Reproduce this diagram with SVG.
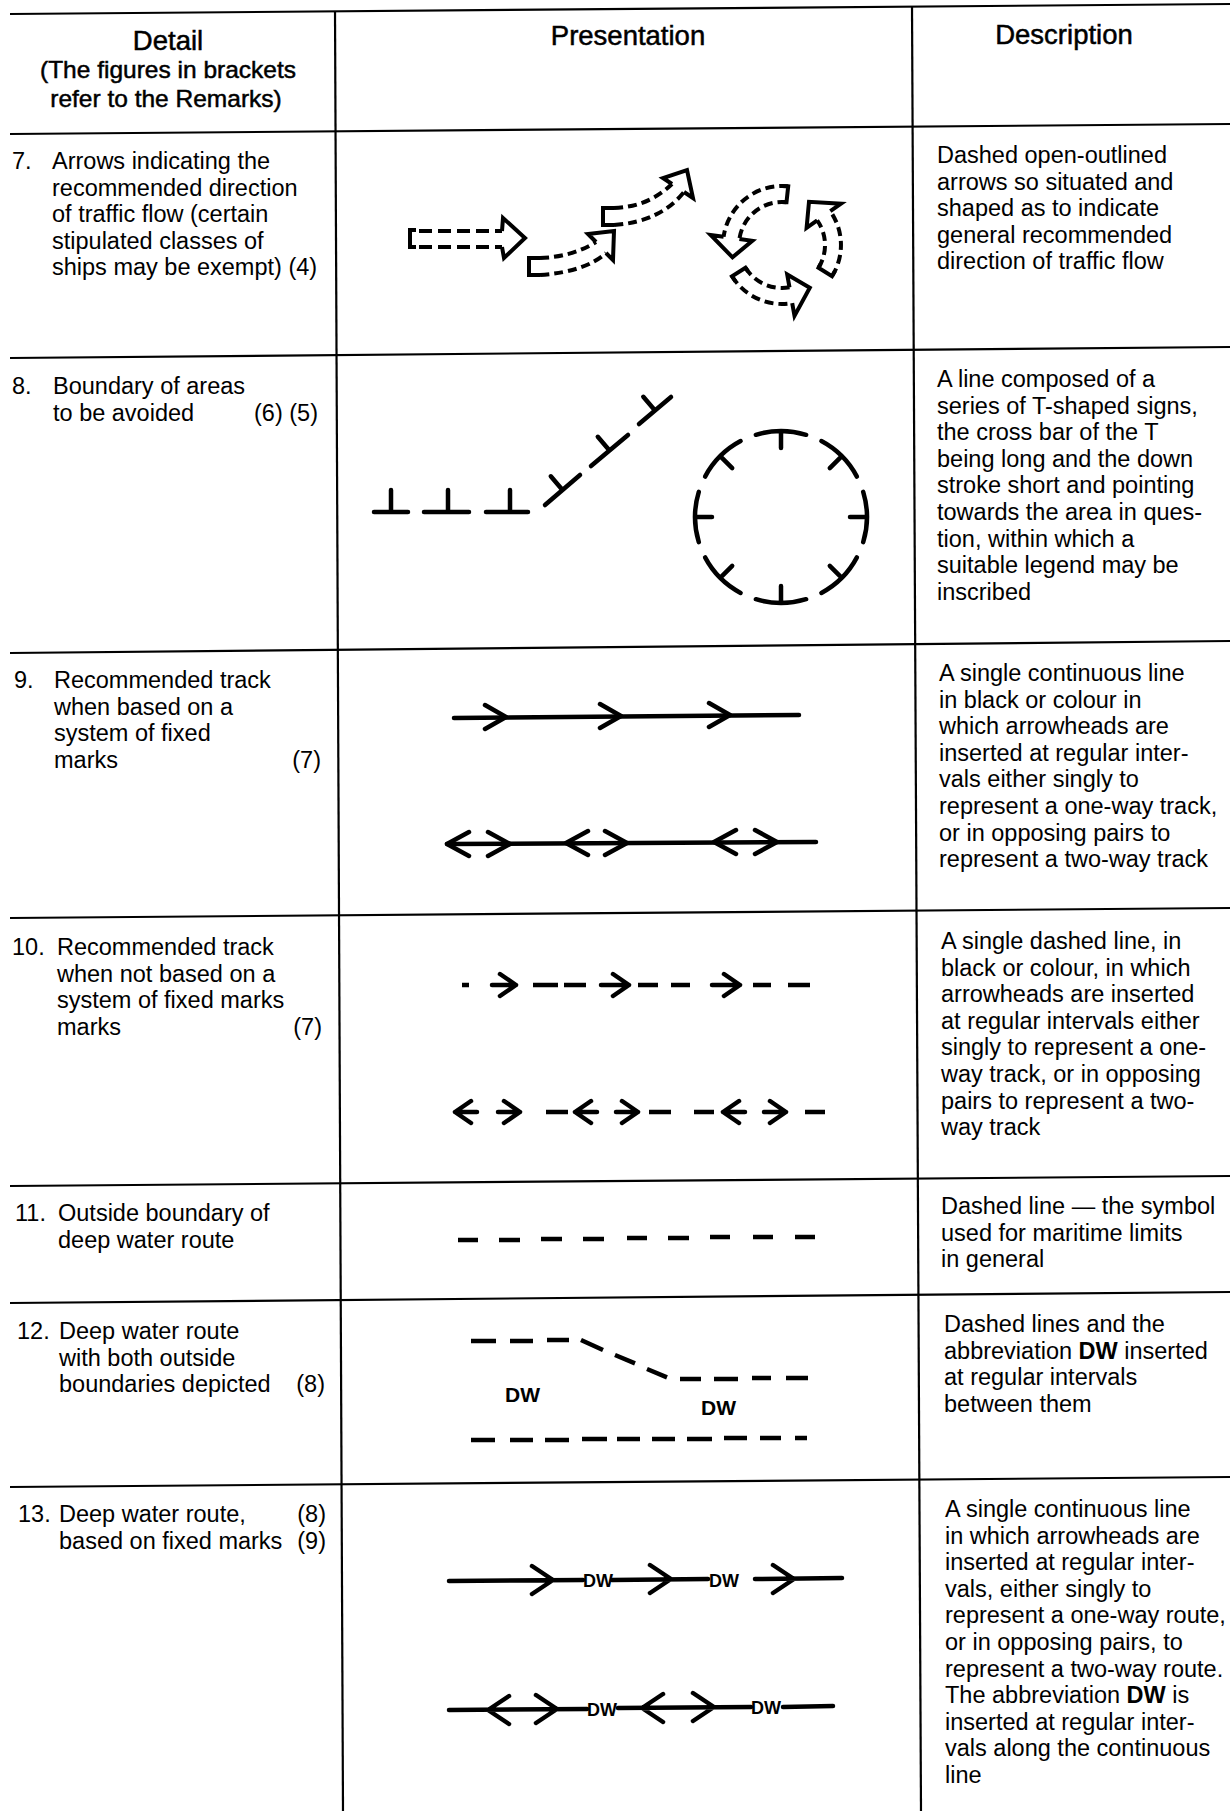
<svg xmlns="http://www.w3.org/2000/svg" width="1230" height="1811" viewBox="0 0 1230 1811">
<style>
.t{font-family:"Liberation Sans",Arial,sans-serif;font-size:23.5px;fill:#000}
.h{font-family:"Liberation Sans",Arial,sans-serif;font-size:27.5px;fill:#000;stroke:#000;stroke-width:0.5;text-anchor:middle}
.n{font-family:"Liberation Sans",Arial,sans-serif;font-size:24.5px;fill:#000;stroke:#000;stroke-width:0.5;text-anchor:middle}
.e{text-anchor:end}
.dw{font-family:"Liberation Sans",Arial,sans-serif;font-weight:bold;fill:#000}
.grid line{stroke:#000;stroke-width:2.2}
.sym{fill:none;stroke:#000;stroke-width:4.5;stroke-linecap:round;stroke-linejoin:round}
.dsh{fill:none;stroke:#000;stroke-width:4.5;stroke-linecap:butt}
.ol{fill:none;stroke:#000;stroke-width:4;stroke-linejoin:miter;stroke-linecap:butt}
.od{fill:none;stroke:#000;stroke-width:4;stroke-dasharray:9 5}
</style>
<rect width="1230" height="1811" fill="#fff"/>

<g id="grid" class="grid">
<line x1="10" y1="14" x2="1230" y2="4"/>
<line x1="10" y1="134" x2="1230" y2="124"/>
<line x1="10" y1="358" x2="1230" y2="347"/>
<line x1="10" y1="653" x2="1230" y2="641"/>
<line x1="10" y1="918" x2="1230" y2="908"/>
<line x1="10" y1="1186" x2="1230" y2="1176"/>
<line x1="10" y1="1303" x2="1230" y2="1292"/>
<line x1="10" y1="1487" x2="1230" y2="1477"/>
<line x1="335" y1="11" x2="343" y2="1811"/>
<line x1="912" y1="7" x2="921" y2="1811"/>
</g>

<g id="header">
<text class="h" x="168" y="50">Detail</text>
<text class="n" x="168" y="78">(The figures in brackets</text>
<text class="n" x="166" y="107">refer to the Remarks)</text>
<text class="h" x="628" y="45">Presentation</text>
<text class="h" x="1064" y="44">Description</text>
</g>

<g id="row7-detail" class="t">
<text x="12" y="169">7.</text>
<text x="52" y="169">Arrows indicating the</text>
<text x="52" y="195.6">recommended direction</text>
<text x="52" y="222.2">of traffic flow (certain</text>
<text x="52" y="248.8">stipulated classes of</text>
<text x="52" y="275.4">ships may be exempt) (4)</text>
</g>
<g id="row7-presentation">
<path class="ol" d="M416 230 L410 230 L410 247 L416 247"/>
<path class="od" style="stroke-dasharray:13 6" d="M419 231 L502 231 M419 247 L502 247"/>
<path class="ol" d="M502 231 L503 218 L525 238 L504 258 L502 247"/>
<path class="ol" d="M540 258 L529 258 L529 275 L540 275"/>
<path class="od" d="M540 258 Q572 257 596 242 M540 275 Q585 272 606 253"/>
<path class="ol" d="M596 242 L588 234 L614 231 L613 260 L606 253"/>
<path class="ol" d="M614 208 L603 208 L603 225 L614 225"/>
<path class="od" d="M614 208 Q648 207 672 184 M614 225 Q660 222 684 192"/>
<path class="ol" d="M672 184 L663 178 L687 170 L693 198 L684 192"/>
<path class="ol" d="M782 186 L788.2 186.3 L786.5 202.2 L782 202"/>
<path class="od" d="M788.2 186.3 A59 59 0 0 0 723.6 236.8 M786.5 202.2 A43 43 0 0 0 739.4 239"/>
<path class="ol" d="M739.4 239 L752.3 240.8 L732.5 257.3 L710.7 235 L723.6 236.8"/>
<path class="ol" d="M835 270.9 L832 276.3 L818.5 267.8 L820.6 263.9"/>
<path class="od" d="M832 276.3 A59 59 0 0 0 830.3 211.2 M818.5 267.8 A43 43 0 0 0 817.2 220.3"/>
<path class="ol" d="M817.2 220.3 L806.6 227.8 L809 201.8 L841 203.7 L830.3 211.2"/>
<path class="ol" d="M735.5 281.3 L732 276.3 L745.5 267.8 L748.1 271.5"/>
<path class="od" d="M732 276.3 A59 59 0 0 0 792.2 303.1 M745.5 267.8 A43 43 0 0 0 789.5 287.3"/>
<path class="ol" d="M789.5 287.3 L787.2 274.5 L809.8 287.8 L794.5 315.9 L792.2 303.1"/>
</g>
<g id="row7-description" class="t">
<text x="937" y="163">Dashed open-outlined</text>
<text x="937" y="189.6">arrows so situated and</text>
<text x="937" y="216.2">shaped as to indicate</text>
<text x="937" y="242.8">general recommended</text>
<text x="937" y="269.4">direction of traffic flow</text>
</g>

<g id="row8-detail" class="t">
<text x="12" y="394">8.</text>
<text x="53" y="394">Boundary of areas</text>
<text x="53" y="420.6">to be avoided</text>
<text class="e" x="318" y="420.6">(6) (5)</text>
</g>
<g id="row8-presentation" class="sym">
<path d="M374 512 L408 512 M391 512 L391 490 M424 512 L469 512 M448 512 L448 490 M486 512 L528 512 M510 512 L510 490"/>
<path d="M545 505 L580 475 M562.5 490 L550.8 476.3 M591 466 L628 435 M609.5 450.5 L597.8 436.8 M639 424 L671 397 M655 410.5 L643.3 396.8"/>
<path d="M755.9 434.8 A86 86 0 0 1 806.1 434.8 M781 431 L781 448"/>
<path d="M821.4 441.1 A86 86 0 0 1 856.9 476.6 M841.8 456.2 L829.8 468.2"/>
<path d="M863.2 491.9 A86 86 0 0 1 863.2 542.1 M867 517 L850 517"/>
<path d="M856.9 557.4 A86 86 0 0 1 821.4 592.9 M841.8 577.8 L829.8 565.8"/>
<path d="M806.1 599.2 A86 86 0 0 1 755.9 599.2 M781 603 L781 586"/>
<path d="M740.6 592.9 A86 86 0 0 1 705.1 557.4 M720.2 577.8 L732.2 565.8"/>
<path d="M698.8 542.1 A86 86 0 0 1 698.8 491.9 M695 517 L712 517"/>
<path d="M705.1 476.6 A86 86 0 0 1 740.6 441.1 M720.2 456.2 L732.2 468.2"/>
</g>
<g id="row8-description" class="t">
<text x="937" y="387">A line composed of a</text>
<text x="937" y="413.6">series of T-shaped signs,</text>
<text x="937" y="440.2">the cross bar of the T</text>
<text x="937" y="466.8">being long and the down</text>
<text x="937" y="493.4">stroke short and pointing</text>
<text x="937" y="520">towards the area in ques-</text>
<text x="937" y="546.6">tion, within which a</text>
<text x="937" y="573.2">suitable legend may be</text>
<text x="937" y="599.8">inscribed</text>
</g>

<g id="row9-detail" class="t">
<text x="14" y="688">9.</text>
<text x="54" y="688">Recommended track</text>
<text x="54" y="714.6">when based on a</text>
<text x="54" y="741.2">system of fixed</text>
<text x="54" y="767.8">marks</text>
<text class="e" x="321" y="767.8">(7)</text>
</g>
<g id="row9-presentation" class="sym">
<path d="M454 718 L799 715"/>
<path d="M485 705 L506 717 L485 729 M600 704 L621 716 L600 728 M709 703 L730 715 L709 727"/>
<path d="M447 844 L816 842"/>
<path d="M469 832 L447 844 L469 856 M488 832 L510 844 L488 856 M588 831 L566 843 L588 855 M605 831 L627 843 L605 855 M736 830 L714 842 L736 854 M755 830 L777 842 L755 854"/>
</g>
<g id="row9-description" class="t">
<text x="939" y="681">A single continuous line</text>
<text x="939" y="707.6">in black or colour in</text>
<text x="939" y="734.2">which arrowheads are</text>
<text x="939" y="760.8">inserted at regular inter-</text>
<text x="939" y="787.4">vals either singly to</text>
<text x="939" y="814">represent a one-way track,</text>
<text x="939" y="840.6">or in opposing pairs to</text>
<text x="939" y="867.2">represent a two-way track</text>
</g>

<g id="row10-detail" class="t">
<text x="12" y="955">10.</text>
<text x="57" y="955">Recommended track</text>
<text x="57" y="981.6">when not based on a</text>
<text x="57" y="1008.2">system of fixed marks</text>
<text x="57" y="1034.8">marks</text>
<text class="e" x="322" y="1034.8">(7)</text>
</g>
<g id="row10-presentation">
<path class="dsh" d="M462 985 L469 985 M533 985 L558 985 M564 985 L586 985 M638 985 L658 985 M671 985 L690 985 M753 985 L771 985 M788 985 L810 985"/>
<path class="sym" d="M492 985 L516 985 M500 974 L516 985 L500 996 M601 985 L629 985 M613 974 L629 985 L613 996 M712 985 L740 985 M724 974 L740 985 L724 996"/>
<path class="dsh" d="M546 1112 L568 1112 M649 1112 L671 1112 M694 1112 L714 1112 M805 1112 L825 1112"/>
<path class="sym" d="M455 1112 L477 1112 M471 1101 L455 1112 L471 1123 M498 1112 L520 1112 M504 1101 L520 1112 L504 1123 M575 1112 L597 1112 M591 1101 L575 1112 L591 1123 M616 1112 L638 1112 M622 1101 L638 1112 L622 1123 M723 1112 L745 1112 M739 1101 L723 1112 L739 1123 M764 1112 L786 1112 M770 1101 L786 1112 L770 1123"/>
</g>
<g id="row10-description" class="t">
<text x="941" y="949">A single dashed line, in</text>
<text x="941" y="975.6">black or colour, in which</text>
<text x="941" y="1002.2">arrowheads are inserted</text>
<text x="941" y="1028.8">at regular intervals either</text>
<text x="941" y="1055.4">singly to represent a one-</text>
<text x="941" y="1082">way track, or in opposing</text>
<text x="941" y="1108.6">pairs to represent a two-</text>
<text x="941" y="1135.2">way track</text>
</g>

<g id="row11-detail" class="t">
<text x="15" y="1221">11.</text>
<text x="58" y="1221">Outside boundary of</text>
<text x="58" y="1247.6">deep water route</text>
</g>
<g id="row11-presentation">
<path class="dsh" d="M458 1240 L478 1240 M499 1240 L520 1240 M541 1239 L562 1239 M583 1239 L604 1239 M627 1238 L647 1238 M668 1238 L689 1238 M710 1237 L730 1237 M753 1237 L773 1237 M795 1237 L815 1237"/>
</g>
<g id="row11-description" class="t">
<text x="941" y="1214">Dashed line — the symbol</text>
<text x="941" y="1240.6">used for maritime limits</text>
<text x="941" y="1267.2">in general</text>
</g>

<g id="row12-detail" class="t">
<text x="17" y="1339">12.</text>
<text x="59" y="1339">Deep water route</text>
<text x="59" y="1365.6">with both outside</text>
<text x="59" y="1392.2">boundaries depicted</text>
<text class="e" x="325" y="1392.2">(8)</text>
</g>
<g id="row12-presentation">
<path class="dsh" d="M471 1341 L496 1341 M510 1341 L533 1341 M547 1340 L569 1340 M581 1340 L603 1350 M615 1355 L635 1363.3 M647 1369 L667 1377.3 M680 1379 L701 1379 M714 1379 L738 1379 M752 1378 L771 1378 M786 1378 L808 1378"/>
<path class="dsh" d="M471 1440 L495 1440 M510 1440 L533 1440 M545 1440 L569 1440 M582 1439 L607 1439 M617 1439 L640 1439 M652 1439 L675 1439 M687 1439 L712 1439 M724 1438 L747 1438 M760 1438 L781 1438 M795 1438 L807 1438"/>
<text class="dw" x="505" y="1402" font-size="21">DW</text>
<text class="dw" x="701" y="1415" font-size="21">DW</text>
</g>
<g id="row12-description" class="t">
<text x="944" y="1332">Dashed lines and the</text>
<text x="944" y="1358.6">abbreviation <tspan font-weight="bold">DW</tspan> inserted</text>
<text x="944" y="1385.2">at regular intervals</text>
<text x="944" y="1411.8">between them</text>
</g>

<g id="row13-detail" class="t">
<text x="18" y="1522">13.</text>
<text x="59" y="1522">Deep water route,</text>
<text class="e" x="326" y="1522">(8)</text>
<text x="59" y="1548.6">based on fixed marks</text>
<text class="e" x="326" y="1548.6">(9)</text>
</g>
<g id="row13-presentation">
<path class="sym" d="M449 1581 L583 1580 M532 1566 L553 1580 L532 1594 M612 1580 L708 1579 M650 1565 L671 1579 L650 1593 M755 1579 L842 1578 M773 1565 L794 1579 L773 1593"/>
<path class="sym" d="M449 1710 L587 1709 M509 1696 L488 1710 L509 1724 M536 1695 L557 1709 L536 1723 M618 1708 L751 1707 M663 1694 L642 1708 L663 1722 M693 1693 L714 1707 L693 1721 M783 1707 L833 1706"/>
<text class="dw" x="583" y="1587" font-size="18">DW</text>
<text class="dw" x="709" y="1587" font-size="18">DW</text>
<text class="dw" x="587" y="1716" font-size="18">DW</text>
<text class="dw" x="751" y="1714" font-size="18">DW</text>
</g>
<g id="row13-description" class="t">
<text x="945" y="1517">A single continuous line</text>
<text x="945" y="1543.6">in which arrowheads are</text>
<text x="945" y="1570.2">inserted at regular inter-</text>
<text x="945" y="1596.8">vals, either singly to</text>
<text x="945" y="1623.4">represent a one-way route,</text>
<text x="945" y="1650">or in opposing pairs, to</text>
<text x="945" y="1676.6">represent a two-way route.</text>
<text x="945" y="1703.2">The abbreviation <tspan font-weight="bold">DW</tspan> is</text>
<text x="945" y="1729.8">inserted at regular inter-</text>
<text x="945" y="1756.4">vals along the continuous</text>
<text x="945" y="1783">line</text>
</g>
</svg>
